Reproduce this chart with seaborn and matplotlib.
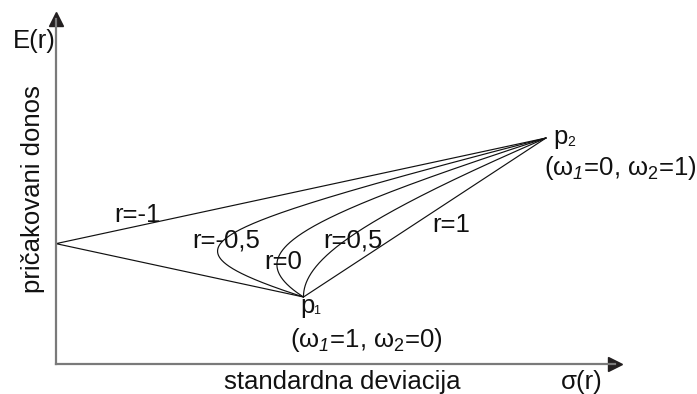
import numpy as np
import pandas as pd
import matplotlib
matplotlib.use('Agg')
import matplotlib.pyplot as plt
import seaborn as sns

# two risky assets: standard deviation and expected return
sigma_1, ret_1 = 4.95, 1.34
sigma_2, ret_2 = 9.80, 4.52
correlations = [-1.0, -0.5, 0.0, 0.5, 1.0]
curve_labels = ['r=-1', 'r=-0,5', 'r=0', 'r=0,5', 'r=1']
label_pos = [(137, 215), (226, 240), (283, 262), (353, 240), (451, 225)]

weights = np.linspace(0, 1, 401)

rows = []
for rho in correlations:
    w1 = weights
    w2 = 1 - weights
    var = (w1 * sigma_1) ** 2 + (w2 * sigma_2) ** 2 + 2 * w1 * w2 * rho * sigma_1 * sigma_2
    sd = np.sqrt(np.clip(var, 0, None))
    er = w1 * ret_1 + w2 * ret_2
    rows.append(pd.DataFrame({'sigma': sd, 'E': er, 'rho': rho, 'w1': w1}))
df = pd.concat(rows, ignore_index=True)

sns.set_style('white')
plt.rcParams['font.family'] = ['Liberation Sans', 'DejaVu Sans']
plt.rcParams['mathtext.fontset'] = 'custom'
plt.rcParams['mathtext.rm'] = 'Liberation Sans'
plt.rcParams['mathtext.it'] = 'Liberation Sans:italic'
plt.rcParams['mathtext.sf'] = 'Liberation Sans:italic'

W, H = 697, 394
fig = plt.figure(figsize=(6.97, 3.94), dpi=100)
ax = fig.add_axes([56 / W, 30 / H, (615 - 56) / W, (364 - 19) / H])

sns.lineplot(data=df, x='sigma', y='E', units='rho', estimator=None, sort=False,
             color='#111111', linewidth=0.85, ax=ax)

ax.set_xlim(0, 559 / 50)
ax.set_ylim(0, 345 / 50)
ax.set_xticks([])
ax.set_yticks([])
ax.set_xlabel('')
ax.set_ylabel('')
for side in ['top', 'right']:
    ax.spines[side].set_visible(False)
for side in ['left', 'bottom']:
    ax.spines[side].set_color('#7a7a7a')
    ax.spines[side].set_linewidth(1.6)

# arrow heads
ax.plot(1, 0, marker='>', markersize=10, color='#231f20', transform=ax.transAxes, clip_on=False)
ax.plot(0, 1, marker='^', markersize=10, color='#231f20', transform=ax.transAxes, clip_on=False)


def put(x, y, s, **kw):
    kw.setdefault('fontsize', 18.5)
    kw.setdefault('ha', 'center')
    kw.setdefault('va', 'center')
    fig.text(x / W, 1 - y / H, s, color='#111111', **kw)


for lab, (x, y) in zip(curve_labels, label_pos):
    put(x, y, lab)

put(34, 41, 'E(r)')
put(33, 189, 'pričakovani donos', rotation=90)
put(342, 382, 'standardna deviacija')
put(582, 382, 'σ(r)')

put(553, 137, 'p', ha='left')
put(567, 142, '2', ha='left', fontsize=10)
put(620, 168, r'(ω$_{\mathsf{1}}$=0, ω$_2$=1)')
put(300, 306, 'p', ha='left')
put(313, 311, '1', ha='left', fontsize=9)
put(366, 340, r'(ω$_{\mathsf{1}}$=1, ω$_2$=0)')

fig.savefig('out.png', dpi=100)
